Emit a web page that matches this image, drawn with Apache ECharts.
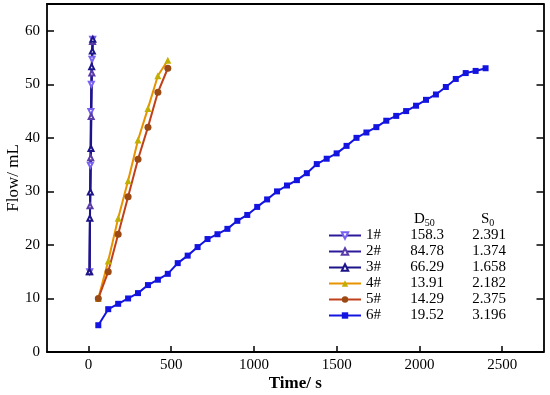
<!DOCTYPE html>
<html><head><meta charset="utf-8">
<script src="https://cdn.jsdelivr.net/npm/echarts@6/dist/echarts.min.js"></script>
<style>html,body{margin:0;padding:0;background:#fff}#c{width:550px;height:395px}</style>
</head><body><div id="c"></div>
<script>
const seriesNames = ['1#','2#','3#','4#','5#','6#'];
const d50 = ['158.3','84.78','66.29','13.91','14.29','19.52'];
const s0 = ['2.391','1.374','1.658','2.182','2.375','3.196'];
const xTicks = [0,500,1000,1500,2000,2500];
const yTicks = [0,10,20,30,40,50,60];
const s1 = [[8,15],[12,34.9],[15,44.9],[18,50.0],[22,54.7],[26,58.4]];
const s2 = [[8,15],[10,27.3],[14,36.3],[17,44.0],[21,52.1],[25,58.0]];
const s3 = [[6,15],[9,25],[12,29.9],[16,38.0],[20,53.3],[24,56.2],[27,58.4]];
const s4 = [[60,10],[120,17],[180,25],[240,32],[300,39.6],[360,45.5],[420,51.6],[480,54.5]];
const s5 = [[60,10],[120,15],[180,22],[240,29],[300,36],[360,42],[420,48.5],[480,53]];
const s6x = [60,120,180,240,300,360,420,480,540,600,660,720,780,840,900,960,1020,1080,1140,1200,1260,1320,1380,1440,1500,1560,1620,1680,1740,1800,1860,1920,1980,2040,2100,2160,2220,2280,2340,2400];
const s6y = [5,8,9,10,11,12.5,13.5,14.6,16.6,18,19.6,21.1,22,23,24.5,25.6,27.1,28.5,30,31.1,32.1,33.4,35.1,36.1,37.1,38.5,40,41,42,43.2,44.1,45,46,47.1,48.1,49.5,51,52.1,52.5,53];
const s6 = s6x.map((x,i)=>[x,s6y[i]]);

const font = 'Liberation Serif';
const chart = echarts.init(document.getElementById('c'));
const axLine = {show:true, onZero:false, lineStyle:{color:'#000', width:1.8}};
function mk(name, data, color, lineColor, symbol, size, rotate){
  return {name, type:'line', data, symbol, symbolSize:size, symbolRotate:rotate||0,
    itemStyle:{color}, lineStyle:{color:lineColor, width:2}, z:2, animation:false};
}
chart.setOption({
  animation:false,
  grid:{left:47, right:6.5, top:4, bottom:43, containLabel:false, outerBoundsMode:'none'},
  xAxis:[{type:'value', min:-250, max:2750, position:'bottom',
      name:'Time/ s', nameLocation:'middle', nameGap:23, nameMoveOverlap:false,
      nameTextStyle:{fontFamily:font, fontSize:17, color:'#000', fontWeight:'bold'},
      axisLine:axLine, splitLine:{show:false},
      axisTick:{show:true, inside:true, length:6, lineStyle:{color:'#000', width:1.5}, customValues:xTicks},
      axisLabel:{fontFamily:font, fontSize:15, color:'#000', margin:6, customValues:xTicks, formatter:v=>String(v)}},
    {type:'value', min:-250, max:2750, position:'top', axisLine:axLine,
      axisTick:{show:false}, axisLabel:{show:false}, splitLine:{show:false}}],
  yAxis:[{type:'value', min:0, max:65, position:'left',
      name:'Flow/ mL', nameLocation:'middle', nameGap:25, nameMoveOverlap:false,
      nameTextStyle:{fontFamily:font, fontSize:17, color:'#000'},
      axisLine:axLine, splitLine:{show:false},
      axisTick:{show:true, inside:true, length:7, lineStyle:{color:'#000', width:1.5}, customValues:yTicks},
      axisLabel:{fontFamily:font, fontSize:15, color:'#000', margin:7, customValues:yTicks, formatter:v=>String(v)}},
    {type:'value', min:0, max:65, position:'right', axisLine:axLine, splitLine:{show:false},
      axisTick:{show:true, inside:true, length:7, lineStyle:{color:'#000', width:1.5}, customValues:yTicks},
      axisLabel:{show:false}}],
  legend:{orient:'vertical', left:328, top:228, padding:0, itemWidth:32, itemHeight:8, itemGap:1,
    data:seriesNames,
    textStyle:{fontFamily:font, fontSize:15, color:'#000', lineHeight:14,
      rich:{n:{width:30, fontFamily:font, fontSize:15, color:'#000'},
            d:{width:62, align:'center', fontFamily:font, fontSize:15, color:'#000'},
            s:{width:62, align:'center', fontFamily:font, fontSize:15, color:'#000'}}},
    formatter:function(n){const i=seriesNames.indexOf(n); return '{n|'+n+'}{d|'+d50[i]+'}{s|'+s0[i]+'}';}},
  graphic:[
    {type:'text', left:414, top:212, style:{text:'{a|D}{b|50}', rich:{a:{fontFamily:font,fontSize:15,fill:'#000'},b:{fontFamily:font,fontSize:10,fill:'#000',padding:[8,0,0,0]}}}},
    {type:'text', left:481, top:212, style:{text:'{a|S}{b|0}', rich:{a:{fontFamily:font,fontSize:15,fill:'#000'},b:{fontFamily:font,fontSize:10,fill:'#000',padding:[8,0,0,0]}}}}
  ],
  series:[
    mk('1#', s1, '#7a62f0', '#2a1a9a', 'emptyTriangle', 5, 180),
    mk('2#', s2, '#5a3ca8', '#2a1a9a', 'emptyTriangle', 5, 0),
    mk('3#', s3, '#1c1488', '#1c1488', 'emptyTriangle', 5, 0),
    mk('4#', s4, '#c2b000', '#e89200', 'triangle', 7, 0),
    mk('5#', s5, '#9c4a14', '#c0401a', 'circle', 7, 0),
    mk('6#', s6, '#1414e0', '#1414e0', 'rect', 6, 0)
  ]
});
</script></body></html>
